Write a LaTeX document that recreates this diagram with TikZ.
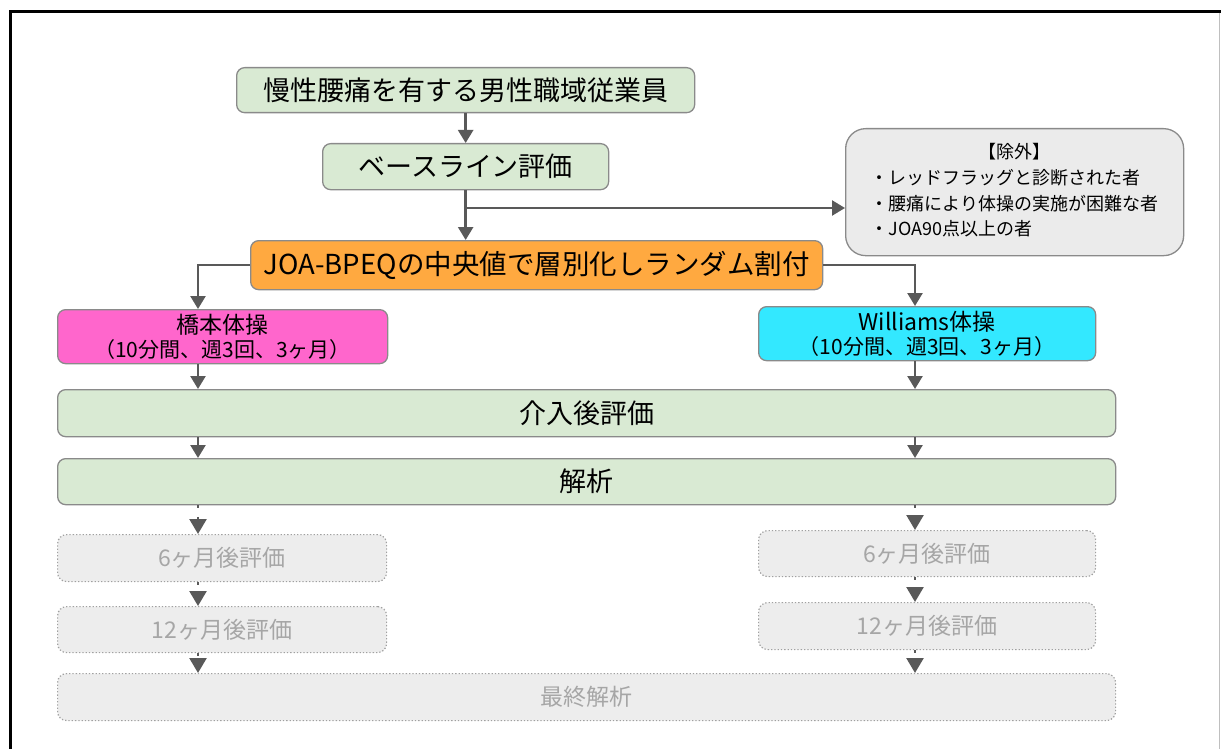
\documentclass[tikz,border=0pt]{standalone}
\usepackage{fontspec}
\setmainfont{Noto Sans CJK JP}
\usetikzlibrary{arrows.meta}
\definecolor{gfill}{HTML}{D9EAD3}
\definecolor{bord}{HTML}{8A8A8A}
\definecolor{ofill}{HTML}{FFA940}
\definecolor{pfill}{HTML}{FF66CC}
\definecolor{cfill}{HTML}{33E8FF}
\definecolor{xfill}{HTML}{EBEBEB}
\definecolor{dfill}{HTML}{EDEDED}
\definecolor{dbord}{HTML}{A0A0A0}
\definecolor{dtext}{HTML}{A6A6A6}
\definecolor{arrc}{HTML}{595959}
\newcommand{\titlesz}{\fontsize{23}{24}\selectfont}
\begin{document}
\begin{tikzpicture}[x=1pt,y=-1pt,
  box/.style={draw=bord, line width=1.3pt, rounded corners=8pt, anchor=north west, inner sep=0pt, align=center},
  gbox/.style={box, fill=gfill, font=\fontsize{27}{30}\selectfont},
  obox/.style={box, fill=ofill, font=\fontsize{27.5}{30}\selectfont},
  tbox/.style={box, font=\fontsize{21}{24}\selectfont},
  xbox/.style={box, fill=xfill, rounded corners=20pt, font=\fontsize{18}{25.7}\selectfont},
  dbox/.style={box, fill=dfill, draw=dbord, dotted, line width=1.2pt, rounded corners=9pt, text=dtext, font=\fontsize{23}{26}\selectfont},
  arr/.style={draw=arrc, line width=2.5pt, -{Triangle[length=13pt,width=15pt]}},
  darr/.style={draw=arrc, line width=2.5pt, dash pattern=on 2.5pt off 9pt, -{Triangle[length=15pt,width=17pt]}}
]
\useasboundingbox (0,0) rectangle (1221,749);
% frame
\draw[black, line width=3pt] (10,749) -- (10,12) -- (1221,12);
\draw[black!25, line width=1pt] (1219.5,13) -- (1219.5,749);

\node[gbox, minimum width=458pt, minimum height=45pt] (A) at (236,67) {慢性腰痛を有する男性職域従業員};
\node[gbox, minimum width=286pt, minimum height=46pt] (B) at (322,143) {ベースライン評価};
\node[xbox, minimum width=338pt, minimum height=127pt] (X) at (845,128)
  {\begin{tabular}{@{}l@{}}\multicolumn{1}{@{}c@{}}{【除外】}\\ ・レッドフラッグと診断された者\\ ・腰痛により体操の実施が困難な者\\ ・JOA90点以上の者\end{tabular}};
\node[obox, minimum width=572pt, minimum height=49pt] (C) at (250,240) {JOA-BPEQの中央値で層別化しランダム割付};
\node[tbox, fill=pfill, minimum width=330pt, minimum height=54pt] (D) at (57,309) {{\titlesz 橋本体操}\\（10分間、週3回、3ヶ月）};
\node[tbox, fill=cfill, minimum width=337pt, minimum height=54pt] (E) at (758,306) {{\titlesz Williams体操}\\（10分間、週3回、3ヶ月）};
\node[gbox, minimum width=1058pt, minimum height=47pt] (F) at (57,389) {介入後評価};
\node[gbox, minimum width=1058pt, minimum height=46pt] (G) at (57,458) {解析};
\node[dbox, minimum width=329pt, minimum height=47pt] (H1) at (57,534) {6ヶ月後評価};
\node[dbox, minimum width=337pt, minimum height=46pt] (H2) at (758,530) {6ヶ月後評価};
\node[dbox, minimum width=329pt, minimum height=46pt] (I1) at (57,606) {12ヶ月後評価};
\node[dbox, minimum width=337pt, minimum height=47pt] (I2) at (758,602) {12ヶ月後評価};
\node[dbox, minimum width=1058pt, minimum height=47pt] (J) at (57,673) {最終解析};

\coordinate (lx) at (198,0);
\coordinate (rx) at (915,0);
\coordinate (br) at (465,208);

\draw[arr] (A.south) -- (B.north);
\draw[arr] (B.south) -- (B.south |- C.north);
\draw[arr] (br) -- (X.west |- br);
\draw[arr] (C.west) -| (lx |- D.north);
\draw[arr] (C.east) -| (rx |- E.north);
\draw[arr] (lx |- D.south) -- (lx |- F.north);
\draw[arr] (rx |- E.south) -- (rx |- F.north);
\draw[arr] (lx |- F.south) -- (lx |- G.north);
\draw[arr] (rx |- F.south) -- (rx |- G.north);
\draw[darr] (lx |- G.south) -- (lx |- H1.north);
\draw[darr] (rx |- G.south) -- (rx |- H2.north);
\draw[darr] (lx |- H1.south) -- (lx |- I1.north);
\draw[darr] (rx |- H2.south) -- (rx |- I2.north);
\draw[darr] (lx |- I1.south) -- (lx |- J.north);
\draw[darr] (rx |- I2.south) -- (rx |- J.north);
\end{tikzpicture}
\end{document}
